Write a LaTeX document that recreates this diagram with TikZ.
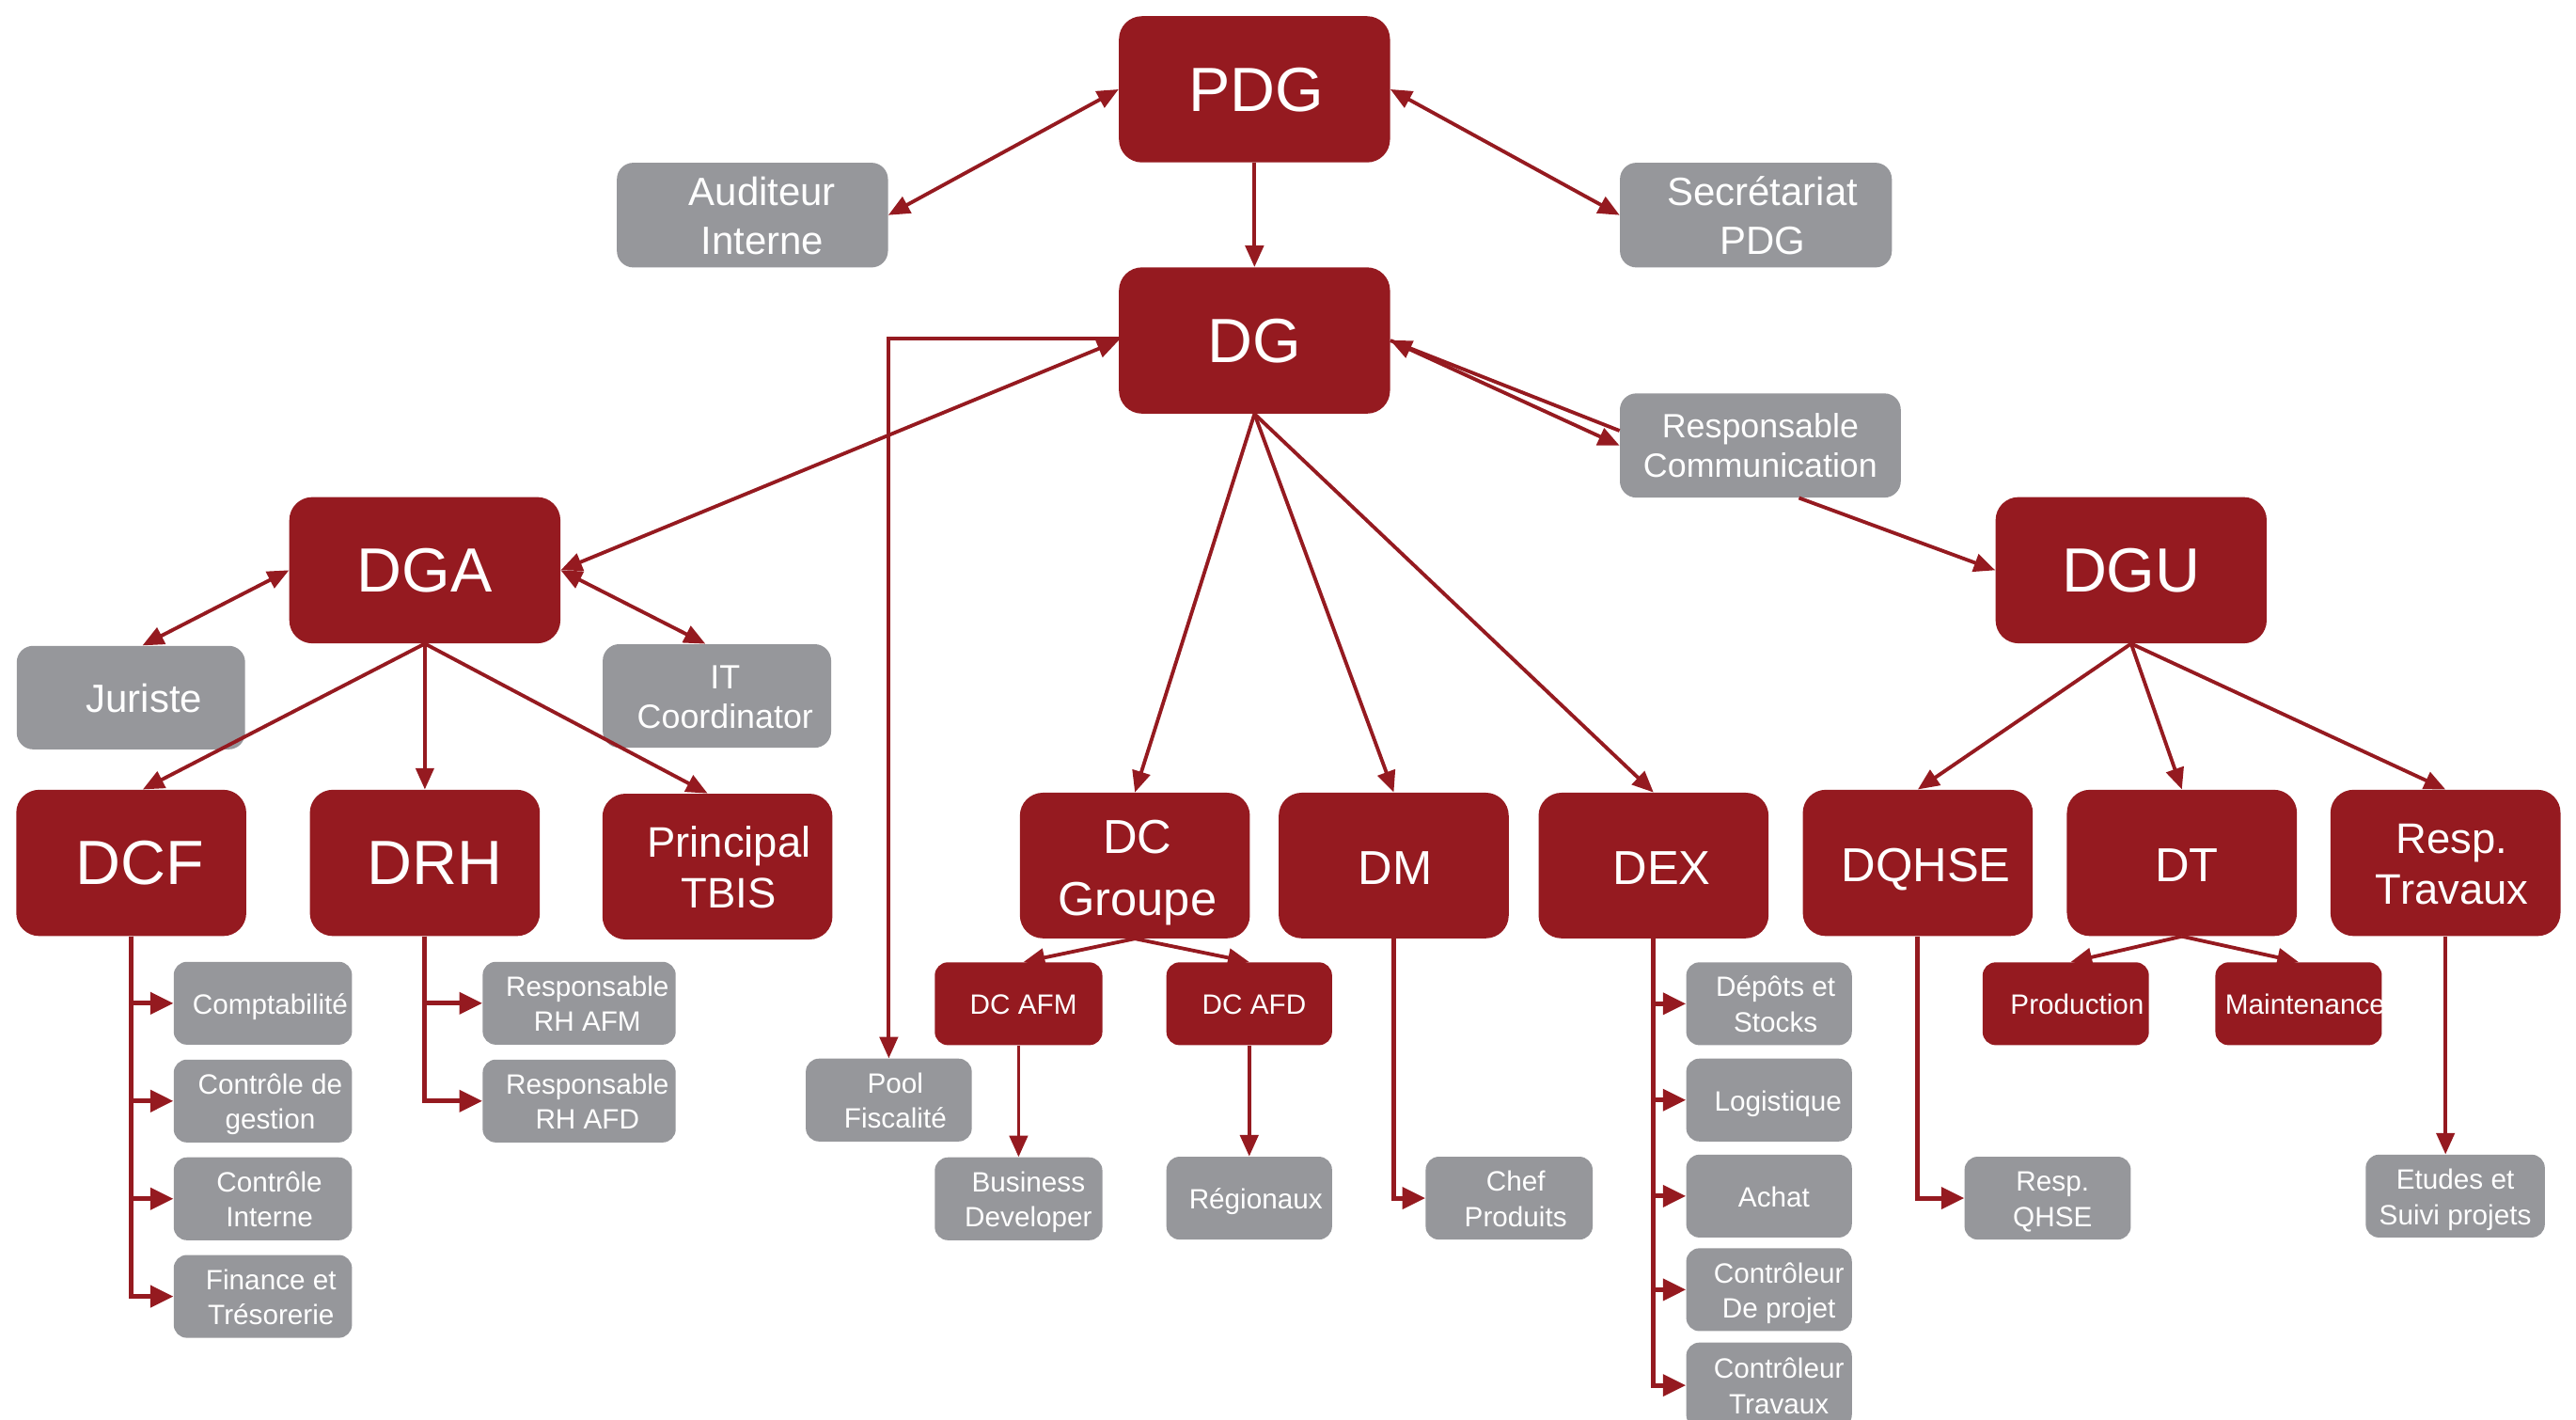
\documentclass[tikz,border=0pt]{standalone}
\usepackage{fontspec}
\setmainfont{Liberation Sans}
\usetikzlibrary{arrows.meta}
\definecolor{dred}{RGB}{149,26,32}
\definecolor{lgray}{RGB}{150,151,155}
\newcommand\mystrut{\setbox\strutbox\hbox{\vrule height .7\baselineskip depth .3\baselineskip width 0pt}}
\newcommand\myfA{\fontsize{38}{42}\selectfont\mystrut}
\newcommand\myfB{\fontsize{29}{38}\selectfont\mystrut}
\newcommand\myfC{\fontsize{26}{31}\selectfont\mystrut}
\newcommand\myfD{\fontsize{24}{29.5}\selectfont\mystrut}
\newcommand\myfE{\fontsize{20.5}{24}\selectfont\mystrut}
\newcommand\myfF{\fontsize{17}{21.5}\selectfont\mystrut}
\def\tshift{8pt}
\def\tfont{\myfF}
\newcommand\bxt[1]{\tfont\hspace*{\tshift}\makebox[0pt]{\raisebox{-.13em}[\height][\depth]{\begin{tabular}{@{}c@{}}#1\end{tabular}}}}
\begin{document}
\begin{tikzpicture}[x=1pt,y=-1pt,
  ts/.code={\def\tshift{#1}},
  fnt/.code={\def\tfont{#1}},
  box/.style={inner sep=0pt, text=white},
  rbox/.style={box, fill=dred, rounded corners=14pt},
  rsbox/.style={box, fill=dred, rounded corners=8pt, fnt=\myfF, minimum height=50.4pt},
  gbox/.style={box, fill=lgray, rounded corners=10pt},
  gsbox/.style={box, fill=lgray, rounded corners=8pt, fnt=\myfF, minimum height=50.4pt},
  big/.style={rbox, minimum width=165pt, minimum height=89pt, fnt=\myfA, ts=0pt},
  mid/.style={rbox, minimum width=140pt, minimum height=89pt},
  conn/.style={draw=dred, line width=2.2pt},
  arr/.style={conn, -{Triangle[length=13pt,width=11pt]}},
  biarr/.style={conn, {Triangle[length=13pt,width=11pt]}-{Triangle[length=13pt,width=11pt]}},
  barr/.style={draw=dred, line width=2.8pt, -{Triangle[length=14pt,width=13pt]}},
]
\useasboundingbox (0,0) rectangle (1568,864);

% top level
\node[big, ts=2pt] (PDG) at (763.6,54.35) {\bxt{PDG}};
\node[big] (DG) at (763.6,207.2) {\bxt{DG}};
\node[gbox, minimum width=165pt, minimum height=63.7pt, fnt=\myfD, ts=12pt] (AUD) at (458,130.9) {\bxt{Auditeur\\Interne}};
\node[gbox, minimum width=165.5pt, minimum height=63.7pt, fnt=\myfD, ts=8pt] (SEC) at (1068.8,130.9) {\bxt{Secrétariat\\PDG}};
\node[gbox, minimum width=171pt, minimum height=63.4pt, fnt=\myfE, ts=0pt] (RC) at (1071.5,271.1) {\bxt{Responsable\\Communication}};
\node[big] (DGA) at (258.6,347) {\bxt{DGA}};
\node[big] (DGU) at (1297.2,347) {\bxt{DGU}};
\node[gbox, minimum width=139pt, minimum height=63pt, fnt=\myfD, ts=16pt] (JUR) at (79.7,424.5) {\bxt{Juriste}};
\node[gbox, minimum width=139pt, minimum height=63pt, fnt=\myfE, ts=10pt] (IT) at (436.4,423.5) {\bxt{IT\\Coordinator}};

% second level
\node[mid, fnt=\myfA, ts=10pt] (DCF) at (79.9,525.1) {\bxt{DCF}};
\node[mid, fnt=\myfA, ts=12pt] (DRH) at (258.6,525.1) {\bxt{DRH}};
\node[mid, fnt=\myfC, ts=14pt, minimum height=88.7pt] (PT) at (436.7,527.35) {\bxt{Principal\\TBIS}};
\node[mid, fnt=\myfB, ts=3pt, minimum height=88.6pt] (DCG) at (690.8,526.7) {\bxt{DC\\Groupe}};
\node[mid, fnt=\myfB, ts=2pt, minimum height=88.6pt] (DM) at (848.35,526.7) {\bxt{DM}};
\node[mid, fnt=\myfB, ts=10pt, minimum height=88.6pt] (DEX) at (1006.5,526.7) {\bxt{DEX}};
\node[mid, fnt=\myfB, ts=10pt] (DQHSE) at (1167.35,525.1) {\bxt{DQHSE}};
\node[mid, fnt=\myfB, ts=6pt] (DT) at (1328.1,525.1) {\bxt{DT}};
\node[mid, fnt=\myfC, ts=8pt] (RT) at (1488.55,525.1) {\bxt{Resp.\\Travaux}};

% small boxes
\node[gsbox, minimum width=108.5pt, ts=9pt] (COMP) at (160,610.5) {\bxt{Comptabilité}};
\node[gsbox, minimum width=108.5pt, ts=9pt] (CDG) at (160,670) {\bxt{Contrôle de\\gestion}};
\node[gsbox, minimum width=108.5pt, ts=8pt] (CI) at (160,729.5) {\bxt{Contrôle\\Interne}};
\node[gsbox, minimum width=108.5pt, ts=10pt] (FT) at (160,788.9) {\bxt{Finance et\\Trésorerie}};
\node[gsbox, minimum width=117.5pt, ts=10pt] (RHAFM) at (352.55,610.5) {\bxt{Responsable\\RH AFM}};
\node[gsbox, minimum width=117.5pt, ts=10pt] (RHAFD) at (352.55,670) {\bxt{Responsable\\RH AFD}};
\node[gsbox, minimum width=101pt, ts=8pt] (POOL) at (541,669.4) {\bxt{Pool\\Fiscalité}};
\node[rsbox, minimum width=102pt, ts=6pt] (DCAFM) at (620,610.8) {\bxt{DC AFM}};
\node[rsbox, minimum width=100.8pt, ts=6pt] (DCAFD) at (760.4,610.8) {\bxt{DC AFD}};
\node[gsbox, minimum width=102pt, ts=12pt] (BUS) at (620,729.5) {\bxt{Business\\Developer}};
\node[gsbox, minimum width=100.8pt, ts=8pt] (REG) at (760.4,729.1) {\bxt{Régionaux}};
\node[gsbox, minimum width=101.6pt, ts=8pt] (CHEF) at (918.6,729.1) {\bxt{Chef\\Produits}};
\node[gsbox, minimum width=100.8pt, ts=8pt] (DEP) at (1076.8,610.8) {\bxt{Dépôts et\\Stocks}};
\node[gsbox, minimum width=100.8pt, ts=11pt] (LOG) at (1076.8,669.4) {\bxt{Logistique}};
\node[gsbox, minimum width=100.8pt, ts=6pt] (ACH) at (1076.8,727.85) {\bxt{Achat}};
\node[gsbox, minimum width=100.8pt, ts=12pt] (CDP) at (1076.8,784.8) {\bxt{Contrôleur\\De projet}};
\node[gsbox, minimum width=100.8pt, minimum height=52pt, ts=12pt] (CT) at (1076.8,843) {\bxt{Contrôleur\\Travaux}};
\node[rsbox, minimum width=101.2pt, ts=14pt] (PROD) at (1257.4,610.8) {\bxt{Production}};
\node[rsbox, minimum width=101.3pt, ts=8pt] (MAIN) at (1399.15,610.8) {\bxt{Maintenance}};
\node[gsbox, minimum width=101.2pt, ts=6pt] (RQ) at (1246.4,729.1) {\bxt{Resp.\\QHSE}};
\node[gsbox, minimum width=109pt, ts=0pt] (ETU) at (1494.5,727.85) {\bxt{Etudes et\\Suivi projets}};

% connectors: top
\draw[biarr] (PDG.west) -- (AUD.east);
\draw[biarr] (PDG.east) -- (SEC.west);
\draw[arr] (PDG.south) -- (DG.north);
\draw[biarr] (DG.west) -- (DGA.east);
\draw[arr] ([yshift=1pt]DG.west) -| (POOL.north);
\draw[biarr] (DG.east) -- (RC.west);
\draw[conn] (DG.east) -- ([yshift=9pt]RC.west);
\draw[arr] ([xshift=23.5pt]RC.south) -- (DGU.west);
\draw[arr] (DG.south) -- (DCG.north);
\draw[arr] (DG.south) -- (DM.north);
\draw[arr] (DG.south) -- (DEX.north);

% DGA
\draw[biarr] (DGA.west) -- ([xshift=7pt]JUR.north);
\draw[biarr] (DGA.east) -- ([xshift=-7pt]IT.north);
\draw[arr] (DGA.south) -- ([xshift=7pt]DCF.north);
\draw[arr] (DGA.south) -- (DRH.north);
\draw[arr] (DGA.south) -- ([xshift=-6pt]PT.north);

% DGU
\draw[arr] (DGU.south) -- (DQHSE.north);
\draw[arr] (DGU.south) -- (DT.north);
\draw[arr] (DGU.south) -- (RT.north);

% DC Groupe, DT
\draw[arr] (DCG.south) -- ([xshift=3pt]DCAFM.north);
\draw[arr] (DCG.south) -- (DCAFD.north);
\draw[arr] (DT.south) -- ([xshift=3pt]PROD.north);
\draw[arr] (DT.south) -- (MAIN.north);
\draw[arr] (DCAFM.south) -- (BUS.north);
\draw[arr] (DCAFD.south) -- (REG.north);
\draw[arr] (RT.south) -- (RT.south |- ETU.north);

% branches
\foreach \b in {COMP,CDG,CI,FT} \draw[barr] (DCF.south) |- (\b.west);
\foreach \b in {RHAFM,RHAFD} \draw[barr] (DRH.south) |- (\b.west);
\draw[barr] (DM.south) |- (CHEF.west);
\foreach \b in {DEP,LOG,ACH,CDP,CT} \draw[barr] (DEX.south) |- (\b.west);
\draw[barr] (DQHSE.south) |- (RQ.west);
\end{tikzpicture}
\end{document}
